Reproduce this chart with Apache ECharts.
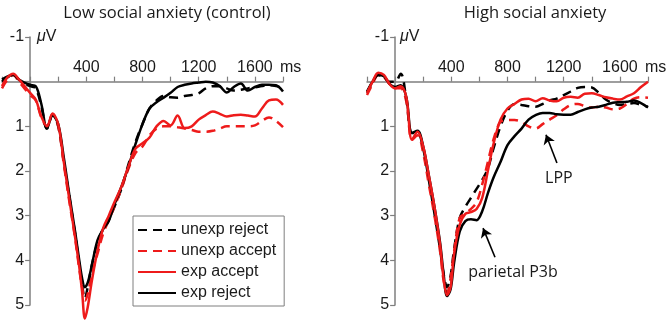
<!DOCTYPE html>
<html>
<head>
<meta charset="utf-8">
<script src="https://cdn.jsdelivr.net/npm/echarts@6/dist/echarts.min.js"></script>
<style>
html, body { margin: 0; padding: 0; background: #fff; }
#erp { width: 666px; height: 324px; }
</style>
</head>
<body>
<div id="erp"></div>
<script>
// time points (ms)
var timeLow = [-200,-160,-120,-80,-40,0,40,80,120,160,200,240,280,320,350,370,390,410,440,480,520,560,600,650,700,750,800,850,900,950,1000,1050,1100,1150,1200,1250,1300,1350,1400,1450,1500,1550,1600,1650,1700,1750,1800];
var timeHigh = [-200,-160,-120,-80,-40,0,40,80,120,160,200,240,280,320,345,370,395,420,460,500,540,580,620,660,700,750,800,850,900,950,1000,1050,1100,1150,1200,1250,1300,1350,1400,1450,1500,1550,1600,1650,1700,1750,1800];

// Low social anxiety (control), µV
var lowUnexpReject = [0.0,-0.1,-0.15,-0.05,0.05,0.1,0.15,0.55,1.05,0.75,1.0,1.8,2.6,3.4, 4.1,4.55,4.85,4.6,4.1, 3.6,3.3,3.1,2.8, 2.4,1.85,1.35,0.95,0.6,0.42,0.32,0.35,0.36,0.32,0.3,0.26,0.15,0.1,0.1,0.15,0.2,0.18,0.15,0.13,0.1,0.08,0.1,0.15];
var lowUnexpAccept = [0.15,-0.05,-0.15,0,0.15,0.3,0.42,0.8,1.0,0.72,1.0,1.85,2.7,3.5, 4.2,4.6,4.9,4.75,4.3, 3.85,3.4,3.1,2.8, 2.4,1.95,1.6,1.45,1.2,1.05,1.0,1.0,1.02,1.05,1.08,1.12,1.12,1.1,1.05,1.0,1.0,1.0,1.0,0.98,0.88,0.8,0.88,1.02];
var lowExpAccept = [0.1,-0.1,-0.18,-0.05,0.1,0.25,0.4,0.78,1.0,0.72,0.95,1.8,2.65,3.48, 4.15,4.7,5.3,5.05,4.45, 3.78,3.28,3.0,2.7, 2.35,1.9,1.5,1.38,1.25,1.0,0.88,0.98,0.76,1.04,1.0,0.85,0.75,0.67,0.72,0.78,0.75,0.74,0.76,0.78,0.6,0.42,0.4,0.52];
var lowExpReject = [-0.05,-0.12,-0.15,-0.05,0.02,0.07,0.1,0.5,1.05,0.76,0.95,1.7,2.55,3.35, 4.0,4.4,4.6,4.5,4.1, 3.55,3.3,3.12,2.75, 2.35,1.9,1.4,0.95,0.6,0.46,0.36,0.25,0.12,0.07,0.04,0.02,0.0,0.02,0.1,0.24,0.12,0.04,0.2,0.12,0.07,0.07,0.08,0.22];

// High social anxiety, µV
var highUnexpReject = [0.25,0.0,-0.15,-0.1,0.0,0.0,-0.18,0.4,1.15,1.15,1.5,2.2,2.95,3.75, 4.3,4.6,4.35,3.75, 3.05,2.8,2.6,2.4,2.2,1.95,1.5, 1.0,0.65,0.5,0.52,0.55,0.56,0.5,0.42,0.38,0.3,0.22,0.14,0.12,0.13,0.25,0.4,0.48,0.52,0.5,0.48,0.52,0.56];
var highUnexpAccept = [0.3,0.05,-0.15,-0.1,0.05,0.15,0.15,0.45,1.3,1.2,1.6,2.3,3.0,3.8, 4.45,4.72,4.4,3.8, 3.05,2.95,2.85,2.7,2.3,1.8,1.3, 0.9,0.86,0.86,0.9,1.0,1.05,0.95,0.85,0.75,0.62,0.52,0.5,0.55,0.58,0.56,0.58,0.62,0.6,0.5,0.38,0.35,0.36];
var highExpAccept = [0.25,0.0,-0.2,-0.15,0.05,0.15,0.1,0.35,1.3,1.12,1.45,2.1,2.8,3.65, 4.4,4.78,4.6,3.85, 3.2,2.96,2.92,2.85,2.6,2.0,1.4, 0.85,0.6,0.5,0.4,0.38,0.44,0.37,0.42,0.44,0.36,0.34,0.36,0.27,0.26,0.3,0.35,0.38,0.4,0.33,0.26,0.12,0.0];
var highExpReject = [0.22,0.0,-0.15,-0.12,0.05,0.12,0.08,0.35,1.15,1.1,1.45,2.1,2.8,3.6, 4.3,4.8,4.65,4.05, 3.35,3.12,3.08,3.1,2.9,2.5,2.15, 1.8,1.42,1.22,1.05,0.85,0.75,0.7,0.7,0.73,0.74,0.74,0.68,0.62,0.58,0.56,0.52,0.47,0.46,0.45,0.42,0.48,0.58];

var legendNames = ['unexp reject', 'unexp accept', 'exp accept', 'exp reject'];
var panelTitles = ['Low social anxiety (control)', 'High social anxiety'];

// axis ranges
var tMin = -200, tMax = 1800, tStep = 200;
var vMin = -1, vMax = 5;

var RED = '#ee1b1b';
var BLACK = '#000000';
var AXIS = '#7f7f7f';
var TEXT = '#1a1a1a';

var GRID_W = 281, GRID_H = 268;
// axes cross at t = 0 and v = 0 inside the grid
var xOffset = -(0 - vMin) / (vMax - vMin) * GRID_H;
var yOffset = -(0 - tMin) / (tMax - tMin) * GRID_W;

function pairs(ts, vs) {
    return ts.map(function (t, i) { return [t, vs[i]]; });
}

function wave(name, idx, ts, vs, color, dashed) {
    return {
        name: name,
        type: 'line',
        xAxisIndex: idx,
        yAxisIndex: idx,
        data: pairs(ts, vs),
        symbol: 'none',
        showSymbol: false,
        smooth: 0.35,
        clip: false,
        silent: true,
        lineStyle: { color: color, width: 2.5, type: dashed ? [9, 6] : 'solid' },
        itemStyle: { color: color }
    };
}

function xAx(idx) {
    return {
        gridIndex: idx, type: 'value', min: tMin, max: tMax, interval: tStep,
        position: 'top', offset: xOffset,
        axisLine: { onZero: false, lineStyle: { color: AXIS, width: 1.5 } },
        axisTick: { show: true, length: 5, lineStyle: { color: AXIS, width: 1.2 } },
        axisLabel: {
            margin: 6, fontSize: 16, fontFamily: 'Liberation Sans', color: TEXT,
            formatter: function (v) { return (v > 0 && v < tMax && v % 400 === 0) ? String(v) : ''; }
        },
        splitLine: { show: false }
    };
}

function yAx(idx) {
    return {
        gridIndex: idx, type: 'value', min: vMin, max: vMax, interval: 1, inverse: true,
        position: 'left', offset: yOffset,
        axisLine: { show: true, onZero: false, lineStyle: { color: AXIS, width: 1.5 } },
        axisTick: { show: true, length: 5, lineStyle: { color: AXIS, width: 1.2 } },
        axisLabel: {
            margin: 6, fontSize: 16, fontFamily: 'Liberation Sans', color: TEXT,
            formatter: function (v) { return v === 0 ? '' : String(v); }
        },
        splitLine: { show: false }
    };
}

function titleOf(text, cx) {
    return {
        text: text, left: cx, top: 0, textAlign: 'center',
        textStyle: { fontFamily: 'Open Sans', fontSize: 16.5, fontWeight: 'normal', color: TEXT }
    };
}

function unitText(text, x, y, rich) {
    return {
        type: 'text', x: x, y: y, silent: true,
        style: {
            text: text, fill: TEXT, font: '16px "Liberation Sans"', verticalAlign: 'middle',
            rich: rich ? { i: { fontStyle: 'italic', fontSize: 16, fontFamily: 'Liberation Sans', fill: TEXT } } : undefined
        }
    };
}

var highReject = wave('exp reject', 1, timeHigh, highExpReject, BLACK, false);
highReject.markLine = {
    silent: true, animation: false,
    symbol: ['none', 'arrow'], symbolSize: 9,
    label: { show: false },
    lineStyle: { color: BLACK, width: 1.6, type: 'solid' },
    data: [
        [{ coord: [1152, 1.82] }, { coord: [1074, 1.19] }],
        [{ coord: [711, 3.93] }, { coord: [626, 3.28] }]
    ]
};
highReject.markPoint = {
    silent: true, animation: false,
    symbol: 'circle', symbolSize: 1,
    itemStyle: { color: 'transparent' },
    label: { show: true, position: 'inside', formatter: '{b}', fontFamily: 'Open Sans', fontSize: 16, color: TEXT },
    data: [
        { name: 'LPP', coord: [1166, 2.16] },
        { name: 'parietal P3b', coord: [839, 4.27] }
    ]
};

var chart = echarts.init(document.getElementById('erp'));
var option = {
    animation: false,
    backgroundColor: '#fff',
    title: [titleOf(panelTitles[0], 162), titleOf(panelTitles[1], 530)],
    grid: [
        { left: 2, top: 37, width: GRID_W, height: GRID_H, containLabel: false, outerBoundsMode: 'none' },
        { left: 367, top: 37, width: GRID_W, height: GRID_H, containLabel: false, outerBoundsMode: 'none' }
    ],
    xAxis: [xAx(0), xAx(1)],
    yAxis: [yAx(0), yAx(1)],
    legend: {
        data: legendNames,
        orient: 'vertical', left: 133, top: 216,
        itemWidth: 38, itemHeight: 1, itemGap: 5,
        padding: [6, 8, 5, 4],
        borderColor: AXIS, borderWidth: 1, borderRadius: 0,
        backgroundColor: '#fff',
        selectedMode: false,
        textStyle: { fontFamily: 'Liberation Sans', fontSize: 16, color: TEXT }
    },
    graphic: [
        unitText('{i|\u03bc}V', 37, 37, true),
        unitText('{i|\u03bc}V', 400, 37, true),
        unitText('ms', 280, 68, false),
        unitText('ms', 645, 68, false)
    ],
    series: [
        wave('unexp reject', 0, timeLow, lowUnexpReject, BLACK, true),
        wave('unexp accept', 0, timeLow, lowUnexpAccept, RED, true),
        wave('exp reject', 0, timeLow, lowExpReject, BLACK, false),
        wave('exp accept', 0, timeLow, lowExpAccept, RED, false),
        wave('unexp reject', 1, timeHigh, highUnexpReject, BLACK, true),
        wave('unexp accept', 1, timeHigh, highUnexpAccept, RED, true),
        highReject,
        wave('exp accept', 1, timeHigh, highExpAccept, RED, false)
    ]
};
chart.setOption(option);
</script>
</body>
</html>
